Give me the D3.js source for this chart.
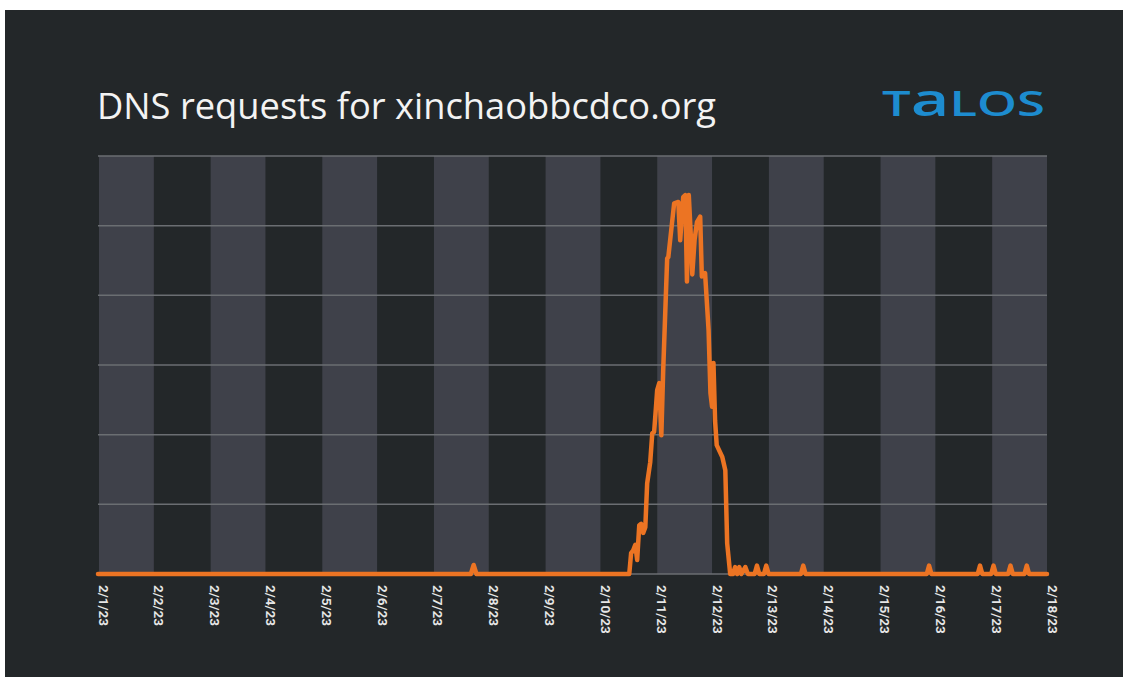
<!DOCTYPE html>
<html>
<head>
<meta charset="utf-8">
<script src="https://cdn.jsdelivr.net/npm/d3@7"></script>
<style>
  body { margin: 0; background: #fff; }
  svg { display: block; }
</style>
</head>
<body>
<div id="chart"></div>
<script>
// hours since 2/1/23 00:00 and request level (grid step = 1)
const hours = [
  0, 160.3, 161.5, 162.7,
  228.4, 229.2, 230.1, 231, 231.8, 232.7, 233.5, 234.4, 235.3, 236.1, 237.4, 238.3, 239.1, 240, 240.4, 241.3, 242.2, 243,
  244.7, 245.2, 247.7, 249.5, 250.3, 251.6, 252.5, 253.2, 254, 254.8, 255.5, 256.5, 257.5, 258.9, 259.6, 261, 262.5,
  263.3, 264, 264.6, 265.3, 266, 268.4, 269.7, 270.5, 271.8,
  273, 273.9, 274.8, 275.7, 276.6, 278.3, 279.4, 282.3, 283.3, 284.3, 286.3, 287.3, 288.3,
  302.2, 303.2, 304.2, 356.3, 357.3, 358.3, 378.2, 379.2, 380.2, 384, 385, 386, 391.3, 392.3, 393.3,
  398.3, 399.3, 400.3, 408
];
const requests = [
  0, 0, 0.13, 0,
  0, 0.3, 0.34, 0.42, 0.2, 0.7, 0.72, 0.59, 0.67, 1.3, 1.6, 2.02, 2.04, 2.45, 2.64, 2.74, 1.99, 2.93,
  4.53, 4.55, 5.32, 5.34, 4.79, 5.41, 5.44, 4.2, 5.44, 4.9, 4.3, 4.8, 5.05, 5.13, 4.27, 4.32, 3.5,
  2.6, 2.4, 3.03, 2.2, 1.85, 1.68, 1.49, 0.44, 0,
  0, 0.1, 0, 0.1, 0, 0.1, 0, 0, 0.12, 0, 0, 0.12, 0,
  0, 0.12, 0, 0, 0.12, 0, 0, 0.12, 0, 0, 0.12, 0, 0, 0.12, 0,
  0, 0.12, 0, 0
];
const gridLevels = [0, 1, 2, 3, 4, 5, 6];
const startDay = new Date(2023, 1, 1);
const endDay = new Date(2023, 1, 18);

const width = 1123, height = 677;
const margin = { top: 156, right: 76, bottom: 103, left: 98 };

let svg = d3.select('#chart')
  .append('svg')
  .attr('width', width)
  .attr('height', height);

svg.append('rect')
  .attr('x', 5)
  .attr('y', 10)
  .attr('width', width - 5)
  .attr('height', height - 10)
  .style('fill', '#232729');

let x = d3.scaleTime()
  .domain([startDay, endDay])
  .range([margin.left, width - margin.right]);
let y = d3.scaleLinear()
  .domain([0, 6])
  .range([height - margin.bottom, margin.top]);

// alternating day bands
let days = d3.timeDay.range(startDay, endDay).filter(function (d, i) { return i % 2 == 0; });
svg.append('g')
  .selectAll('rect')
  .data(days)
  .enter().append('rect')
  .attr('x', function (d) { return x(d) + 1; })
  .attr('y', y(6))
  .attr('width', function (d) { return x(d3.timeDay.offset(d, 1)) - x(d) - 1; })
  .attr('height', y(0) - y(6))
  .style('fill', '#3f414a');

svg.append('g')
  .selectAll('line')
  .data(gridLevels)
  .enter().append('line')
  .attr('x1', margin.left)
  .attr('x2', width - margin.right)
  .attr('y1', function (d) { return y(d); })
  .attr('y2', function (d) { return y(d); })
  .style('stroke', '#6b6e72')
  .style('stroke-width', 1.5);

let xAxis = d3.axisBottom(x)
  .ticks(d3.timeDay.every(1))
  .tickSize(0)
  .tickFormat(d3.timeFormat('%-m/%-d/%y'));

let gx = svg.append('g')
  .attr('transform', 'translate(0,' + (y(0) + 11) + ')')
  .call(xAxis);
gx.select('.domain').remove();
gx.selectAll('text')
  .attr('transform', 'rotate(90)')
  .attr('x', 0)
  .attr('y', 0)
  .attr('dy', 0)
  .style('text-anchor', 'start')
  .style('font-family', 'Roboto, sans-serif')
  .style('font-weight', 'bold')
  .style('font-size', '13.5px')
  .style('fill', '#e6e6e6');

let points = hours.map(function (h, i) { return [startDay.getTime() + h * 3600000, requests[i]]; });
let line = d3.line()
  .x(function (d) { return x(new Date(d[0])); })
  .y(function (d) { return y(d[1]); });

svg.append('path')
  .datum(points)
  .attr('d', line)
  .style('fill', 'none')
  .style('stroke', '#ec7423')
  .style('stroke-width', 4.5)
  .style('stroke-linejoin', 'round')
  .style('stroke-linecap', 'round');

// title and logo
svg.append('text')
  .attr('x', 97)
  .attr('y', 119)
  .attr('textLength', 619)
  .attr('lengthAdjust', 'spacingAndGlyphs')
  .style('font-family', '"Open Sans", sans-serif')
  .style('font-size', '36px')
  .style('fill', '#f3f3f3')
  .text('DNS requests for xinchaobbcdco.org');

let logo = svg.append('text')
  .attr('x', 882)
  .attr('y', 116)
  .attr('textLength', 163)
  .attr('lengthAdjust', 'spacingAndGlyphs')
  .style('font-family', '"Open Sans", sans-serif')
  .style('font-weight', 600)
  .style('font-size', '35px')
  .style('fill', '#1d8ccf');
logo.append('tspan').text('T');
logo.append('tspan').style('font-size', '46px').text('a');
logo.append('tspan').text('LOS');
</script>
</body>
</html>
